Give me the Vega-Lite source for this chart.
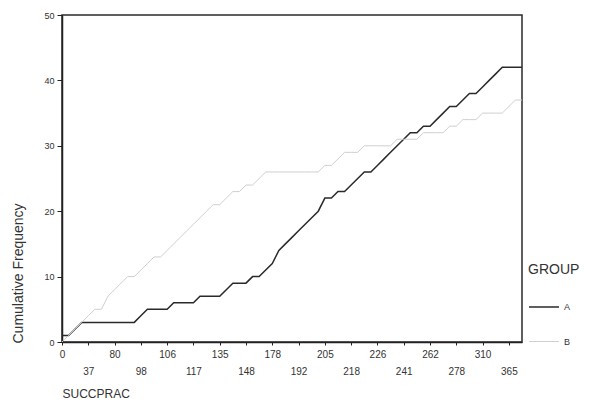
{
  "$schema": "https://vega.github.io/schema/vega-lite/v6.json",
  "width": 460,
  "height": 327,
  "autosize": {"type": "none"},
  "padding": {"left": 62, "top": 15, "right": 68, "bottom": 73},
  "background": "white",
  "config": {
    "font": "Liberation Sans",
    "view": {"stroke": "#2a2a2a", "strokeWidth": 1.5},
    "axis": {"grid": false}
  },
  "data": {
    "values": [
      {"succprac": 0, "A": 1, "B": 0},
      {"succprac": 5, "A": 1, "B": 1},
      {"succprac": 14, "A": 2, "B": 2},
      {"succprac": 28, "A": 3, "B": 3},
      {"succprac": 37, "A": 3, "B": 4},
      {"succprac": 45, "A": 3, "B": 5},
      {"succprac": 58, "A": 3, "B": 5},
      {"succprac": 70, "A": 3, "B": 7},
      {"succprac": 80, "A": 3, "B": 8},
      {"succprac": 84, "A": 3, "B": 9},
      {"succprac": 90, "A": 3, "B": 10},
      {"succprac": 95, "A": 3, "B": 10},
      {"succprac": 98, "A": 4, "B": 11},
      {"succprac": 100, "A": 5, "B": 12},
      {"succprac": 102, "A": 5, "B": 13},
      {"succprac": 104, "A": 5, "B": 13},
      {"succprac": 106, "A": 5, "B": 14},
      {"succprac": 108, "A": 6, "B": 15},
      {"succprac": 111, "A": 6, "B": 16},
      {"succprac": 114, "A": 6, "B": 17},
      {"succprac": 117, "A": 6, "B": 18},
      {"succprac": 120, "A": 7, "B": 19},
      {"succprac": 126, "A": 7, "B": 20},
      {"succprac": 130, "A": 7, "B": 21},
      {"succprac": 135, "A": 7, "B": 21},
      {"succprac": 138, "A": 8, "B": 22},
      {"succprac": 141, "A": 9, "B": 23},
      {"succprac": 145, "A": 9, "B": 23},
      {"succprac": 148, "A": 9, "B": 24},
      {"succprac": 155, "A": 10, "B": 24},
      {"succprac": 163, "A": 10, "B": 25},
      {"succprac": 170, "A": 11, "B": 26},
      {"succprac": 178, "A": 12, "B": 26},
      {"succprac": 181, "A": 14, "B": 26},
      {"succprac": 185, "A": 15, "B": 26},
      {"succprac": 189, "A": 16, "B": 26},
      {"succprac": 192, "A": 17, "B": 26},
      {"succprac": 195, "A": 18, "B": 26},
      {"succprac": 198, "A": 19, "B": 26},
      {"succprac": 202, "A": 20, "B": 26},
      {"succprac": 205, "A": 22, "B": 27},
      {"succprac": 208, "A": 22, "B": 27},
      {"succprac": 211, "A": 23, "B": 28},
      {"succprac": 215, "A": 23, "B": 29},
      {"succprac": 218, "A": 24, "B": 29},
      {"succprac": 220, "A": 25, "B": 29},
      {"succprac": 222, "A": 26, "B": 30},
      {"succprac": 224, "A": 26, "B": 30},
      {"succprac": 226, "A": 27, "B": 30},
      {"succprac": 230, "A": 28, "B": 30},
      {"succprac": 234, "A": 29, "B": 30},
      {"succprac": 238, "A": 30, "B": 31},
      {"succprac": 241, "A": 31, "B": 31},
      {"succprac": 245, "A": 32, "B": 31},
      {"succprac": 250, "A": 32, "B": 31},
      {"succprac": 256, "A": 33, "B": 32},
      {"succprac": 262, "A": 33, "B": 32},
      {"succprac": 266, "A": 34, "B": 32},
      {"succprac": 270, "A": 35, "B": 32},
      {"succprac": 274, "A": 36, "B": 33},
      {"succprac": 278, "A": 36, "B": 33},
      {"succprac": 285, "A": 37, "B": 34},
      {"succprac": 293, "A": 38, "B": 34},
      {"succprac": 300, "A": 38, "B": 34},
      {"succprac": 310, "A": 39, "B": 35},
      {"succprac": 320, "A": 40, "B": 35},
      {"succprac": 335, "A": 41, "B": 35},
      {"succprac": 350, "A": 42, "B": 35},
      {"succprac": 365, "A": 42, "B": 36},
      {"succprac": 380, "A": 42, "B": 37},
      {"succprac": 400, "A": 42, "B": 37}
    ]
  },
  "transform": [{"fold": ["A", "B"], "as": ["GROUP", "freq"]}],
  "mark": {"type": "line", "interpolate": "linear"},
  "encoding": {
    "x": {
      "field": "succprac",
      "type": "ordinal",
      "sort": "ascending",
      "scale": {"type": "point", "padding": 0},
      "axis": {
        "values": [0, 37, 80, 98, 106, 117, 135, 148, 178, 192, 205, 218, 226, 241, 262, 278, 310, 365],
        "labelExpr": "indexof([37, 98, 117, 148, 192, 218, 241, 278, 365], datum.value) >= 0 ? ['', datum.label] : datum.label",
        "labelAngle": 0,
        "labelOverlap": false,
        "labelFontSize": 10,
        "labelLineHeight": 17,
        "labelPadding": 4,
        "labelColor": "#333",
        "tickSize": 3,
        "tickColor": "#222",
        "domainColor": "#222",
        "domainWidth": 1.5,
        "title": "SUCCPRAC",
        "titleX": 0,
        "titleY": 51,
        "titleAlign": "left",
        "titleBaseline": "middle",
        "titleFontWeight": "normal",
        "titleFontSize": 12,
        "titleColor": "#333"
      }
    },
    "y": {
      "field": "freq",
      "type": "quantitative",
      "scale": {"domain": [0, 50]},
      "axis": {
        "values": [0, 10, 20, 30, 40, 50],
        "labelFontSize": 9,
        "labelColor": "#333",
        "labelPadding": 3,
        "tickSize": 5,
        "tickColor": "#222",
        "domainColor": "#222",
        "domainWidth": 1.5,
        "title": "Cumulative Frequency",
        "titleX": -44,
        "titleY": 328,
        "titleAngle": 270,
        "titleAlign": "left",
        "titleBaseline": "middle",
        "titleFontWeight": "normal",
        "titleFontSize": 14,
        "titleColor": "#333"
      }
    },
    "color": {
      "field": "GROUP",
      "type": "nominal",
      "scale": {"domain": ["A", "B"], "range": ["#2a2a2a", "#cfcfcf"]},
      "legend": {
        "orient": "none",
        "legendX": 466,
        "legendY": 248,
        "title": "GROUP",
        "titleFontSize": 14,
        "titleFontWeight": "normal",
        "titleColor": "#333",
        "titlePadding": 14,
        "symbolType": "stroke",
        "symbolSize": 900,
        "symbolStrokeWidth": 1.5,
        "labelFontSize": 9,
        "labelColor": "#333",
        "labelOffset": 4,
        "rowPadding": 14
      }
    },
    "strokeWidth": {
      "field": "GROUP",
      "type": "nominal",
      "scale": {"domain": ["A", "B"], "range": [1.5, 1]},
      "legend": null
    }
  }
}
